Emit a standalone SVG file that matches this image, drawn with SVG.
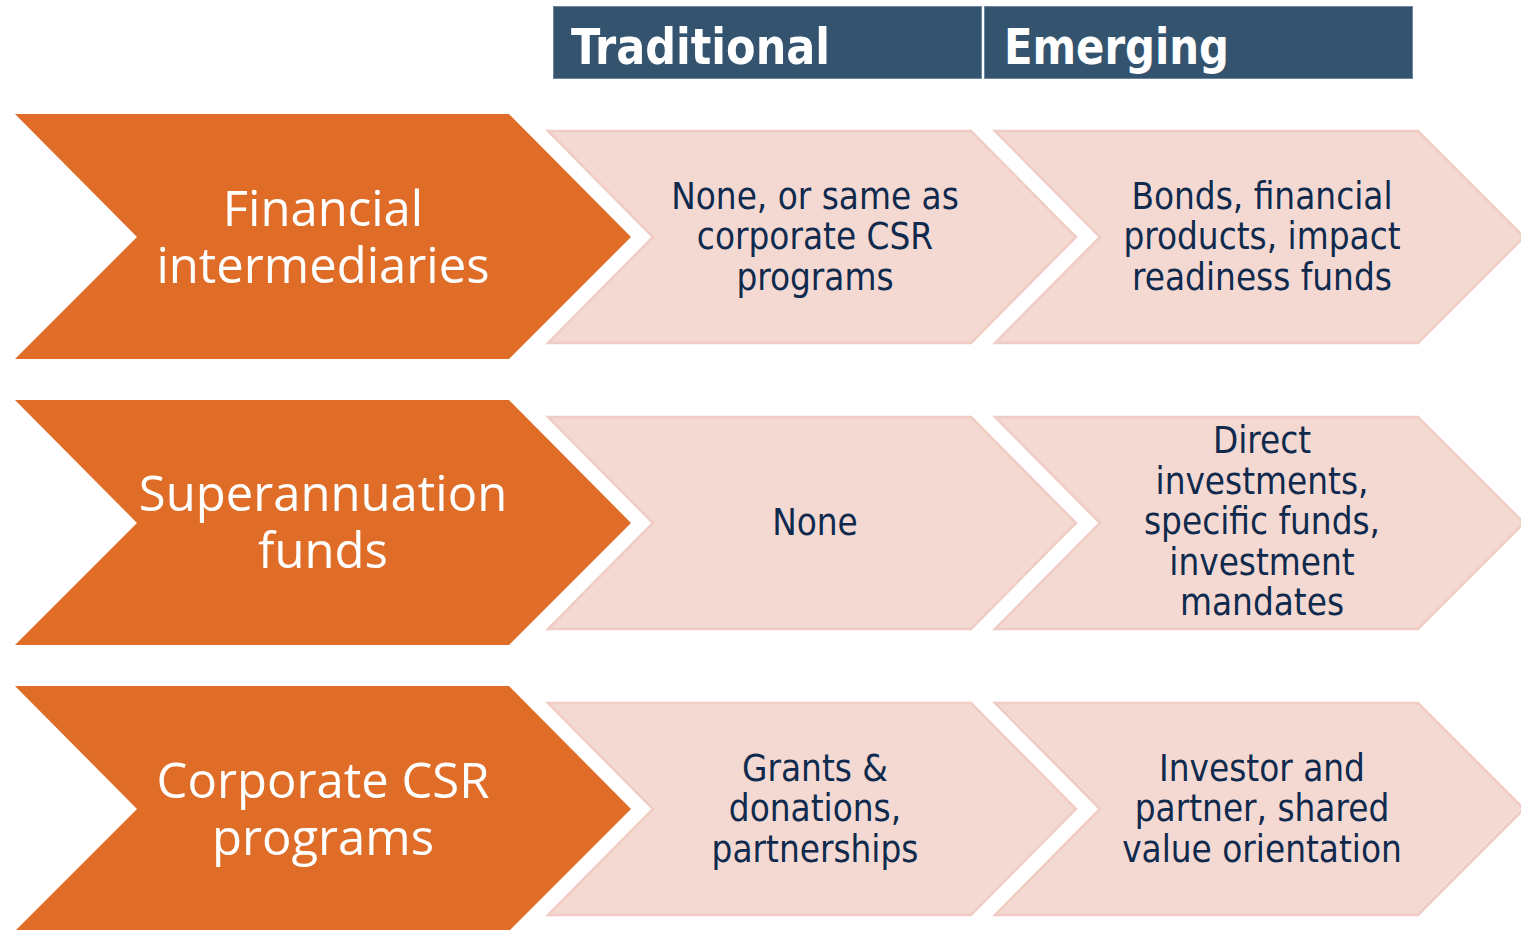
<svg xmlns="http://www.w3.org/2000/svg" width="1521" height="930" viewBox="0 0 1521 930">
  <style>
    .hdr { fill: #34536F; stroke: #6E86A0; stroke-width: 1; }
    .hdr-t { font-family: "DejaVu Sans Condensed", "DejaVu Sans", sans-serif; font-weight: bold; font-size: 49px; fill: #FFFFFF; }
    .cat { fill: #DF6D28; }
    .cat-t { font-family: "Open Sans", "Noto Sans", sans-serif; font-size: 49px; fill: #FFFFFF; text-anchor: middle; }
    .cell { fill: #F4D9D3; stroke: #F0CCC4; stroke-width: 2.5; }
    .cell-t { font-family: "DejaVu Sans Condensed", "DejaVu Sans", sans-serif; font-size: 36.5px; fill: #0F2A4D; text-anchor: middle; }
  </style>
  <rect width="1521" height="930" fill="#FFFFFF"/>

  <!-- column headers -->
  <g id="header-traditional">
    <rect class="hdr" x="553.5" y="6.5" width="428" height="72"/>
    <text class="hdr-t" x="571" y="64" textLength="259" lengthAdjust="spacingAndGlyphs">Traditional</text>
  </g>
  <g id="header-emerging">
    <rect class="hdr" x="984.5" y="6.5" width="428" height="72"/>
    <text class="hdr-t" x="1004" y="64" textLength="225" lengthAdjust="spacingAndGlyphs">Emerging</text>
  </g>

  <!-- row 1 -->
  <g id="financial-intermediaries">
    <polygon class="cat" points="15,114 509,114 631,237 509,359 15,359 137,237"/>
    <text class="cat-t" x="323" y="226">Financial</text>
    <text class="cat-t" x="323" y="283">intermediaries</text>
  </g>
  <g id="fi-traditional">
    <polygon class="cell" points="548,131 971,131 1076,237 971,343 548,343 653,237"/>
    <text class="cell-t" x="815" y="209">None, or same as</text>
    <text class="cell-t" x="815" y="249">corporate CSR</text>
    <text class="cell-t" x="815" y="290">programs</text>
  </g>
  <g id="fi-emerging">
    <polygon class="cell" points="995,131 1418,131 1524,237 1418,343 995,343 1100,237"/>
    <text class="cell-t" x="1262" y="209">Bonds, financial</text>
    <text class="cell-t" x="1262" y="249">products, impact</text>
    <text class="cell-t" x="1262" y="290">readiness funds</text>
  </g>

  <!-- row 2 -->
  <g id="superannuation-funds">
    <polygon class="cat" points="15,400 509,400 631,523 509,645 15,645 137,523"/>
    <text class="cat-t" x="323" y="511">Superannuation</text>
    <text class="cat-t" x="323" y="568">funds</text>
  </g>
  <g id="sf-traditional">
    <polygon class="cell" points="548,417 971,417 1076,523 971,629 548,629 653,523"/>
    <text class="cell-t" x="815" y="535">None</text>
  </g>
  <g id="sf-emerging">
    <polygon class="cell" points="995,417 1418,417 1524,523 1418,629 995,629 1100,523"/>
    <text class="cell-t" x="1262" y="453">Direct</text>
    <text class="cell-t" x="1262" y="494">investments,</text>
    <text class="cell-t" x="1262" y="534">specific funds,</text>
    <text class="cell-t" x="1262" y="575">investment</text>
    <text class="cell-t" x="1262" y="615">mandates</text>
  </g>

  <!-- row 3 -->
  <g id="corporate-csr-programs">
    <polygon class="cat" points="15,686 509,686 631,809 509,931 15,931 137,809"/>
    <text class="cat-t" x="323" y="798">Corporate CSR</text>
    <text class="cat-t" x="323" y="855">programs</text>
  </g>
  <g id="csr-traditional">
    <polygon class="cell" points="548,703 971,703 1076,809 971,915 548,915 653,809"/>
    <text class="cell-t" x="815" y="781">Grants &amp;</text>
    <text class="cell-t" x="815" y="821">donations,</text>
    <text class="cell-t" x="815" y="862">partnerships</text>
  </g>
  <g id="csr-emerging">
    <polygon class="cell" points="995,703 1418,703 1524,809 1418,915 995,915 1100,809"/>
    <text class="cell-t" x="1262" y="781">Investor and</text>
    <text class="cell-t" x="1262" y="821">partner, shared</text>
    <text class="cell-t" x="1262" y="862">value orientation</text>
  </g>

  <!-- no connectors: the chevrons abut directly -->
  <g id="connectors"/>
</svg>
